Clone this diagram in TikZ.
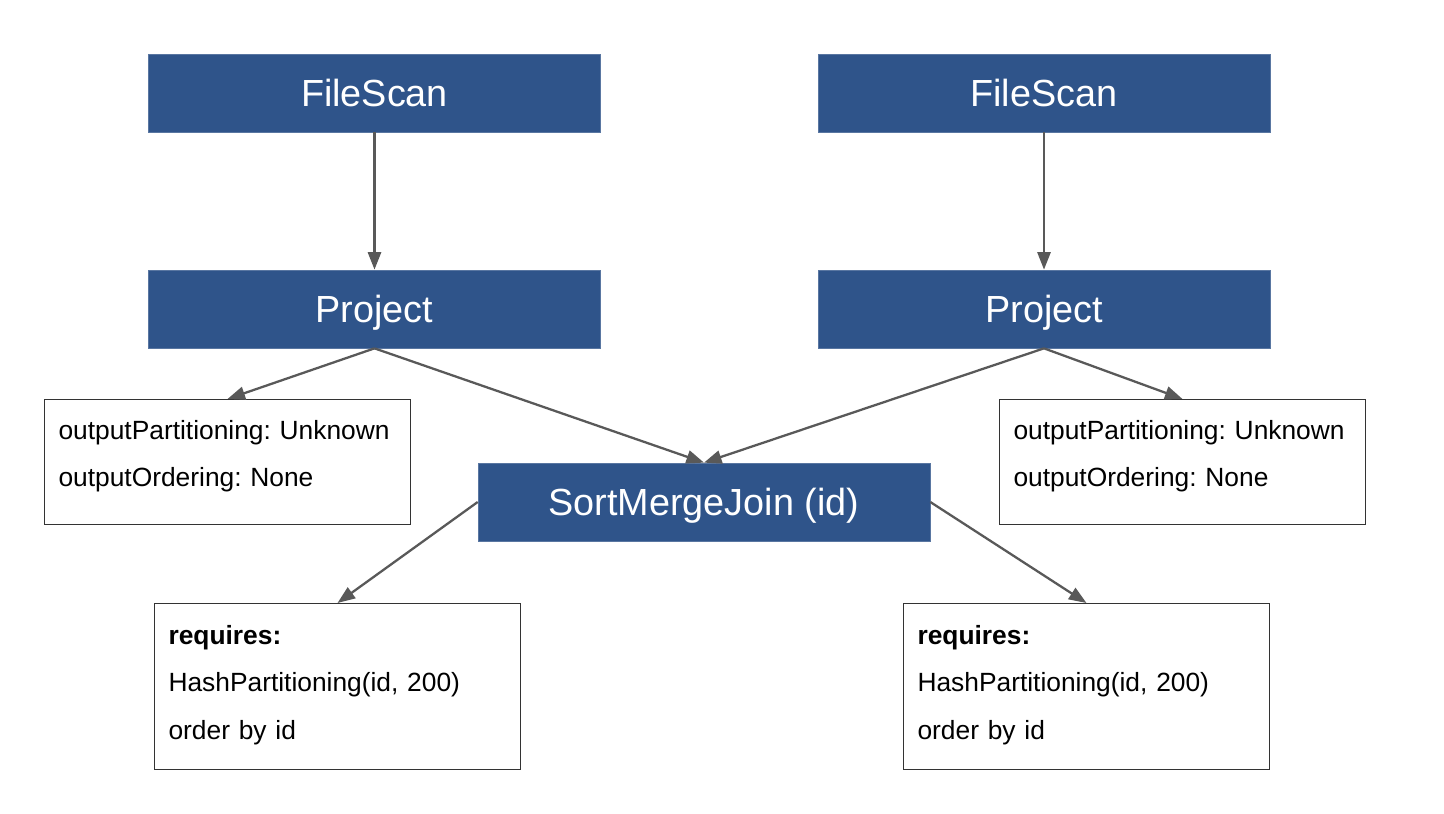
\documentclass[tikz,border=0pt]{standalone}
\usepackage{fontspec}
\setmainfont{Liberation Sans}
\usepackage{tikz}
\usetikzlibrary{arrows.meta, positioning}
\usepackage{xcolor}
\definecolor{opblue}{HTML}{2F548A}
\definecolor{arrgray}{HTML}{595959}
\frenchspacing

\begin{document}
\begin{tikzpicture}[
  x=0.02cm, y=-0.02cm,
  op/.style={
    rectangle,
    fill=opblue,
    draw=opblue!80!white,
    text=white,
    minimum width=9.04cm,
    minimum height=1.56cm,
    inner sep=0pt,
    text height=0.56cm,
    text depth=0pt,
    font=\fontsize{21.5}{25}\selectfont
  },
  info/.style={
    rectangle,
    draw=black!80,
    line width=0.6pt,
    anchor=north west,
    align=left,
    inner xsep=0.28cm,
    inner ysep=0pt,
    text width=6.76cm,
    font=\fontsize{15}{27}\selectfont
  },
  arrow/.style={-{Triangle[length=10pt, width=7.5pt]}, line width=1.3pt, draw=arrgray}
]
  \useasboundingbox (0,0) rectangle (1444,814);

  % Nodes
  \node (FL)  [op] at (374.5,93)  {FileScan};
  \node (FR)  [op] at (1044,93)   {FileScan};
  \node (PL)  [op] at (374.5,309) {Project};
  \node (PR)  [op] at (1044,309)  {Project};
  \node (SMJ) [op] at (704,502)   {SortMergeJoin (id)};

  \node (outL) [info, text height=0.8cm, text depth=1.7cm] at (44,399)
    {outputPartitioning: Unknown\\ outputOrdering: None};
  \node (outR) [info, text height=0.8cm, text depth=1.7cm] at (999,399)
    {outputPartitioning: Unknown\\ outputOrdering: None};

  \node (reqL) [info, text height=0.82cm, text depth=2.5cm] at (154,603)
    {\textbf{requires:}\\ HashPartitioning(id, 200)\\ order by id};
  \node (reqR) [info, text height=0.82cm, text depth=2.5cm] at (903,603)
    {\textbf{requires:}\\ HashPartitioning(id, 200)\\ order by id};

  % Arrows
  \draw [arrow] (FL) -- (PL);
  \draw [arrow] (FR) -- (PR);
  \draw [arrow] (PL.south) -- (outL.north);
  \draw [arrow] (PL.south) -- (SMJ.north);
  \draw [arrow] (PR.south) -- (SMJ.north);
  \draw [arrow] (PR.south) -- (outR.north);
  \draw [arrow] (SMJ.west) -- (reqL.north);
  \draw [arrow] (SMJ.east) -- (reqR.north);

\end{tikzpicture}
\end{document}
